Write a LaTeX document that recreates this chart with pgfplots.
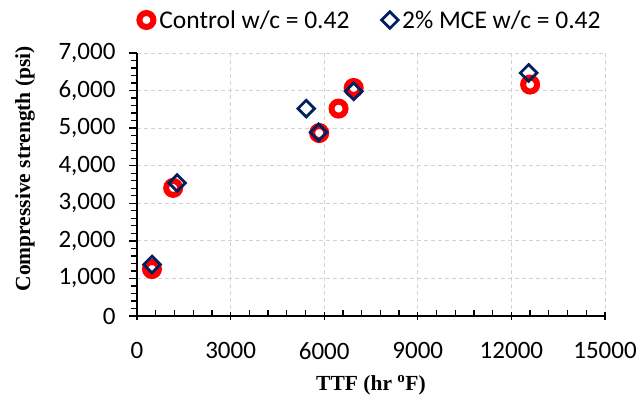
\documentclass[border=0pt]{standalone}
\usepackage{pgfplots}
\pgfplotsset{compat=1.18}
\usepackage{fontspec}
\setmainfont{Carlito}
\newfontfamily\tnr{Liberation Serif}
\definecolor{navy}{RGB}{0,32,96}
\begin{document}
\begin{tikzpicture}
\useasboundingbox (-137pt,-83pt) rectangle (502pt,316pt);
\begin{axis}[
  at={(0,0)}, anchor=south west,
  scale only axis, width=468pt, height=263pt,
  xmin=0, xmax=15000, ymin=0, ymax=7000,
  xtick={0,3000,...,15000}, ytick={0,1000,...,7000},
  minor x tick num=4, minor y tick num=4,
  scaled ticks=false,
  /pgf/number format/assume math mode=true,
  xticklabel style={/pgf/number format/1000 sep={}, yshift=-15pt},
  yticklabel style={/pgf/number format/1000 sep={,}, xshift=-10pt},
  ticklabel style={font=\fontsize{25}{25}\selectfont},
  axis x line*=bottom, axis y line*=left,
  axis line style={-, line width=1.5pt, black},
  tick align=outside,
  major tick length=8pt, minor tick length=6pt,
  every tick/.style={black, line width=1.3pt},
  major x tick style={yshift=4pt},
  minor x tick style={yshift=6pt},
  grid=major,
  major grid style={gray!35, line width=0.9pt, dash pattern=on 4pt off 3pt},
  xlabel={\tnr\bfseries TTF (hr \textsuperscript{o}F)},
  ylabel={\tnr\bfseries Compressive strength (psi)},
  xlabel style={at={(axis description cs:0.5,0)}, anchor=center, yshift=-69pt},
  ylabel style={at={(axis description cs:-0.2393,0.56)}, anchor=center},
  label style={font=\fontsize{21.5}{21.5}\selectfont},
  legend columns=2,
  legend style={at={(axis description cs:0.5,1)}, anchor=center, yshift=33pt, draw=none, fill=none,
    font=\fontsize{25.5}{25.5}\selectfont,
    /tikz/every even column/.append style={column sep=30pt}},
  legend cell align=left,
]
\addplot[only marks, mark=*, mark size=7pt, mark options={draw=red, fill=white, line width=6pt}]
coordinates {(480,1250) (1160,3410) (5840,4870) (6460,5520) (6945,6070) (12600,6160)};
\addlegendentry{\hspace{4pt}Control w/c = 0.42}
\addplot[only marks, mark=square, mark size=5.9pt, mark options={draw=navy, fill=white, line width=2.8pt, rotate=45}]
coordinates {(483,1370) (1286,3540) (5424,5520) (5820,4890) (6945,5980) (12553,6470)};
\addlegendentry{\hspace{2pt}2\% MCE w/c = 0.42}
\end{axis}
\end{tikzpicture}
\end{document}
